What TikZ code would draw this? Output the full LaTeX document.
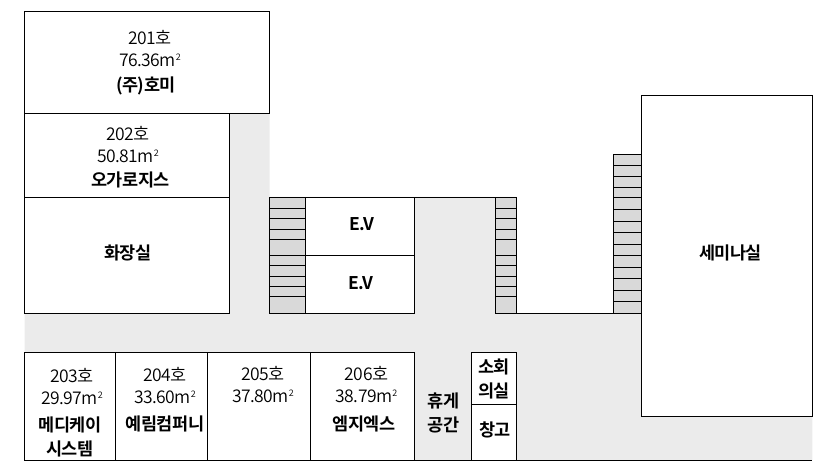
\documentclass[tikz,border=0pt]{standalone}
\usepackage{fontspec}
\setmainfont{Noto Sans CJK KR}[UprightFont=* DemiLight,BoldFont=* Bold,LetterSpace=-3]
\newcommand{\sqm}{m\raisebox{0.62ex}{\fontsize{9}{9}\selectfont 2}}
\definecolor{hallgray}{HTML}{EBEBEB}
\definecolor{stairgray}{HTML}{D9D9D9}
\tikzset{
	wall/.style={draw=black,line width=0.9pt},
	stairbox/.style={wall,fill=stairgray},
	roombox/.style={wall,fill=white},
	roomtext/.style={align=center,inner sep=0pt,font=\fontsize{17.5}{21.5}\selectfont},
	roomname/.style={align=center,inner sep=0pt,font=\fontsize{17.5}{24}\selectfont\bfseries},
	}
\begin{document}
\begin{tikzpicture}[x=1pt,y=-1pt]
	\useasboundingbox (0,0) rectangle (840,470);
	% hall
	\fill[hallgray] (229.5,113) -- (269.5,113) -- (269.5,197) -- (516.7,197) -- (516.7,313) -- (641.3,313)
		-- (641.3,416.3) -- (812.3,416.3) -- (812.3,460) -- (24.5,460) -- (24.5,313) -- (229.5,313) -- cycle;
	% stairs
	\draw[stairbox] (269.5,197) rectangle (305.5,313);
	\draw[stairbox] (495.7,197) rectangle (516.7,313);
	\draw[stairbox] (613.3,154.3) rectangle (641.3,313);
	\foreach \y in {208,218.3,229,239.3,255.5,265.7,276.5,286.7,296.5}{
		\draw[wall] (269.5,\y) -- (305.5,\y);
		\draw[wall] (495.7,\y) -- (516.7,\y);
	}
	\foreach \y in {165.3,176.3,187.3,197.3,209.3,221.3,232.3,244.3,255.3,267.7,278.7,290.3,301.3}
		\draw[wall] (613.3,\y) -- (641.3,\y);
	% rooms
	\draw[roombox] (24.5,11.5) rectangle (269.5,113);
	\draw[roombox] (24.5,113) rectangle (229.5,197);
	\draw[roombox] (24.5,197) rectangle (229.5,313);
	\draw[roombox] (305.5,197) rectangle (414.5,255.5);
	\draw[roombox] (305.5,255.5) rectangle (414.5,313);
	\draw[roombox] (641.3,95.3) rectangle (812.3,416.3);
	\draw[roombox] (24.5,352.3) rectangle (115.5,460);
	\draw[roombox] (115.5,352.3) rectangle (207.5,460);
	\draw[roombox] (207.5,352.3) rectangle (310.5,460);
	\draw[roombox] (310.5,352.3) rectangle (414.5,460);
	\draw[roombox] (471.3,352.3) rectangle (516.7,404.3);
	\draw[roombox] (471.3,404.3) rectangle (516.7,460);
	% hall edges
	\draw[wall] (269.5,313) -- (414.5,313);
	\draw[wall] (414.5,197) -- (495.7,197);
	\draw[wall] (495.7,313) -- (641.3,313);
	\draw[wall] (24.5,460) -- (812.3,460);
	% labels
	\node[roomtext] (r201) at (150,48.5) {201호\\76.36\sqm};
	\node[roomname] (n201) at (146,86) {(주)호미};
	\node[roomtext] (r202) at (128,144.5) {202호\\50.81\sqm};
	\node[roomname] (n202) at (130.5,180) {오가로지스};
	\node[roomname] (wc) at (128,252.5) {화장실};
	\node[roomname] (ev1) at (362,224) {E.V};
	\node[roomname] (ev2) at (361,283) {E.V};
	\node[roomname] (seminar) at (730.5,252.5) {세미나실};
	\node[roomtext] (r203) at (72,386.5) {203호\\29.97\sqm};
	\node[roomname] (n203) at (70,437) {메디케이\\시스템};
	\node[roomtext] (r204) at (165,385.5) {204호\\33.60\sqm};
	\node[roomname] (n204) at (165,424) {예림컴퍼니};
	\node[roomtext] (r205) at (263,384.5) {205호\\37.80\sqm};
	\node[roomtext] (r206) at (366.5,384.5) {206호\\38.79\sqm};
	\node[roomname] (n206) at (364,424) {엠지엑스};
	\node[roomname] (rest) at (443.5,413) {휴게\\공간};
	\node[roomname] (meet) at (494,379) {소회\\의실};
	\node[roomname] (store) at (495,429.5) {창고};
\end{tikzpicture}
\end{document}
